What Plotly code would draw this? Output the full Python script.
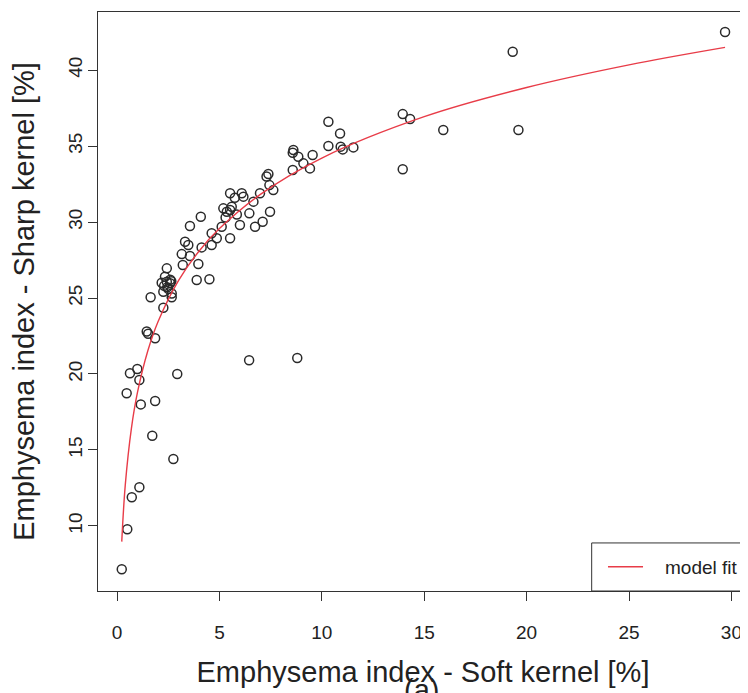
import plotly.graph_objects as go

# Scatter data
soft_kernel = [
    0.23, 0.50, 0.72, 1.09, 2.75, 1.72, 1.16, 1.86, 0.47, 1.09, 0.63, 0.99, 2.94, 6.45, 8.80,
    1.45, 1.52, 1.86, 1.64, 2.26, 2.67, 2.26, 2.18, 2.43, 2.59, 2.34, 2.43, 2.67, 3.21, 3.89,
    4.51, 3.97, 3.16, 3.48, 3.56, 4.13, 4.62, 3.32, 2.50, 2.30, 2.60, 2.45, 2.65,
    3.56, 4.09, 4.62, 4.87, 5.11, 5.52, 6.00, 5.19, 5.36, 5.52, 5.60, 5.52, 6.09, 6.17, 6.66,
    6.46, 6.74, 7.11, 7.47, 6.98, 7.63, 7.44, 7.39, 7.30, 5.75, 5.85, 5.30,
    10.32, 10.89, 10.32, 10.92, 11.02, 11.54, 8.61, 8.58, 8.85, 9.55, 9.10, 9.42, 8.58,
    19.32, 13.95, 14.31, 15.93, 19.60, 13.95, 29.69,
]
sharp_kernel = [
    7.15, 9.78, 11.89, 12.55, 14.41, 15.94, 18.00, 18.22, 18.73, 19.60, 20.05, 20.33, 20.00, 20.90, 21.05,
    22.80, 22.65, 22.35, 25.05, 24.36, 25.05, 25.41, 26.00, 26.07, 25.97, 26.40, 26.95, 25.30, 27.17, 26.18,
    26.23, 27.24, 27.89, 28.49, 27.76, 28.33, 28.49, 28.70, 25.60, 25.80, 26.20, 25.70, 26.10,
    29.74, 30.35, 29.26, 28.93, 29.69, 28.93, 29.80, 30.90, 30.68, 30.79, 31.00, 31.89, 31.89, 31.67, 31.34,
    30.57, 29.69, 30.02, 30.68, 31.89, 32.10, 32.43, 33.16, 33.00, 31.60, 30.50, 30.30,
    36.60, 35.83, 35.00, 34.96, 34.78, 34.91, 34.74, 34.56, 34.30, 34.41, 33.86, 33.53, 33.42,
    41.20, 37.10, 36.78, 36.05, 36.05, 33.47, 42.50,
]

# Model fit curve
fit_x = [0.23, 0.4, 0.7, 1.0, 1.5, 2.0, 3.0, 4.0, 5.0, 7.0, 10.0, 15.0, 20.0, 25.0, 29.69]
fit_y = [8.97, 12.67, 16.41, 18.80, 21.51, 23.44, 26.15, 28.08, 29.57, 31.82, 34.21, 36.93, 38.85, 40.34, 41.49]

x_ticks = [0, 5, 10, 15, 20, 25, 30]
y_ticks = [10, 15, 20, 25, 30, 35, 40]

x_title = "Emphysema index - Soft kernel [%]"
y_title = "Emphysema index - Sharp kernel [%]"
legend_label = "model fit"
panel_label = "(a)"

FONT = "Liberation Sans, Arial, sans-serif"
AX = "#333333"
RED = "rgb(232,60,72)"

fig = go.Figure()
fig.add_trace(go.Scatter(
    x=soft_kernel, y=sharp_kernel, mode="markers",
    marker=dict(symbol="circle-open", size=9, color="#2a2a2a", line=dict(width=1.5, color="#2a2a2a")),
    showlegend=False, hoverinfo="x+y",
))
fig.add_trace(go.Scatter(
    x=fit_x, y=fit_y, mode="lines",
    line=dict(color=RED, width=1.4, shape="spline", smoothing=1.0),
    showlegend=False,
))

# Legend box (bottom right, as in R's legend)
fig.add_shape(type="rect", xref="paper", yref="paper",
              x0=0.7595, x1=1.003, y0=0.0, y1=0.083,
              line=dict(color=AX, width=1), fillcolor="rgba(0,0,0,0)")
fig.add_shape(type="line", xref="paper", yref="paper",
              x0=0.7846, x1=0.8385, y0=0.042, y1=0.042,
              line=dict(color=RED, width=1.4))
fig.add_annotation(text=legend_label, xref="paper", yref="paper",
                   x=0.9285, y=0.040, showarrow=False, xanchor="center", yanchor="middle",
                   font=dict(family=FONT, size=19, color="#222"))

# Partially visible panel label under the x title
fig.add_annotation(text=panel_label, xref="paper", yref="paper",
                   x=0.498, y=-0.171, showarrow=False, xanchor="center", yanchor="middle",
                   font=dict(family=FONT, size=29, color="#222"))

fig.update_layout(
    width=740, height=685,
    margin=dict(l=90, r=0, t=4, b=102),
    paper_bgcolor="white", plot_bgcolor="white",
    font=dict(family=FONT, color="#222"),
    xaxis=dict(
        range=[-0.93, 30.81], tickvals=x_ticks, ticktext=[str(v) for v in x_ticks],
        ticks="outside", ticklen=9, tickcolor=AX, tickwidth=1,
        showline=True, mirror=True, linecolor=AX, linewidth=1,
        showgrid=False, zeroline=False,
        tickfont=dict(family=FONT, size=19, color="#222"),
        ticklabelstandoff=15,
        title=dict(text=x_title, font=dict(family=FONT, size=29, color="#222"), standoff=19),
        automargin=False,
    ),
    yaxis=dict(
        range=[5.72, 43.82], tickvals=y_ticks, ticktext=[str(v) for v in y_ticks],
        ticks="outside", ticklen=9, tickcolor=AX, tickwidth=1,
        showline=True, mirror=True, linecolor=AX, linewidth=1,
        showgrid=False, zeroline=False, tickangle=-90,
        tickfont=dict(family=FONT, size=19, color="#222"),
        ticklabelstandoff=-2,
        title=dict(text=y_title, font=dict(family=FONT, size=29, color="#222"), standoff=26),
        automargin=False,
    ),
)

fig.write_html("out.html")
